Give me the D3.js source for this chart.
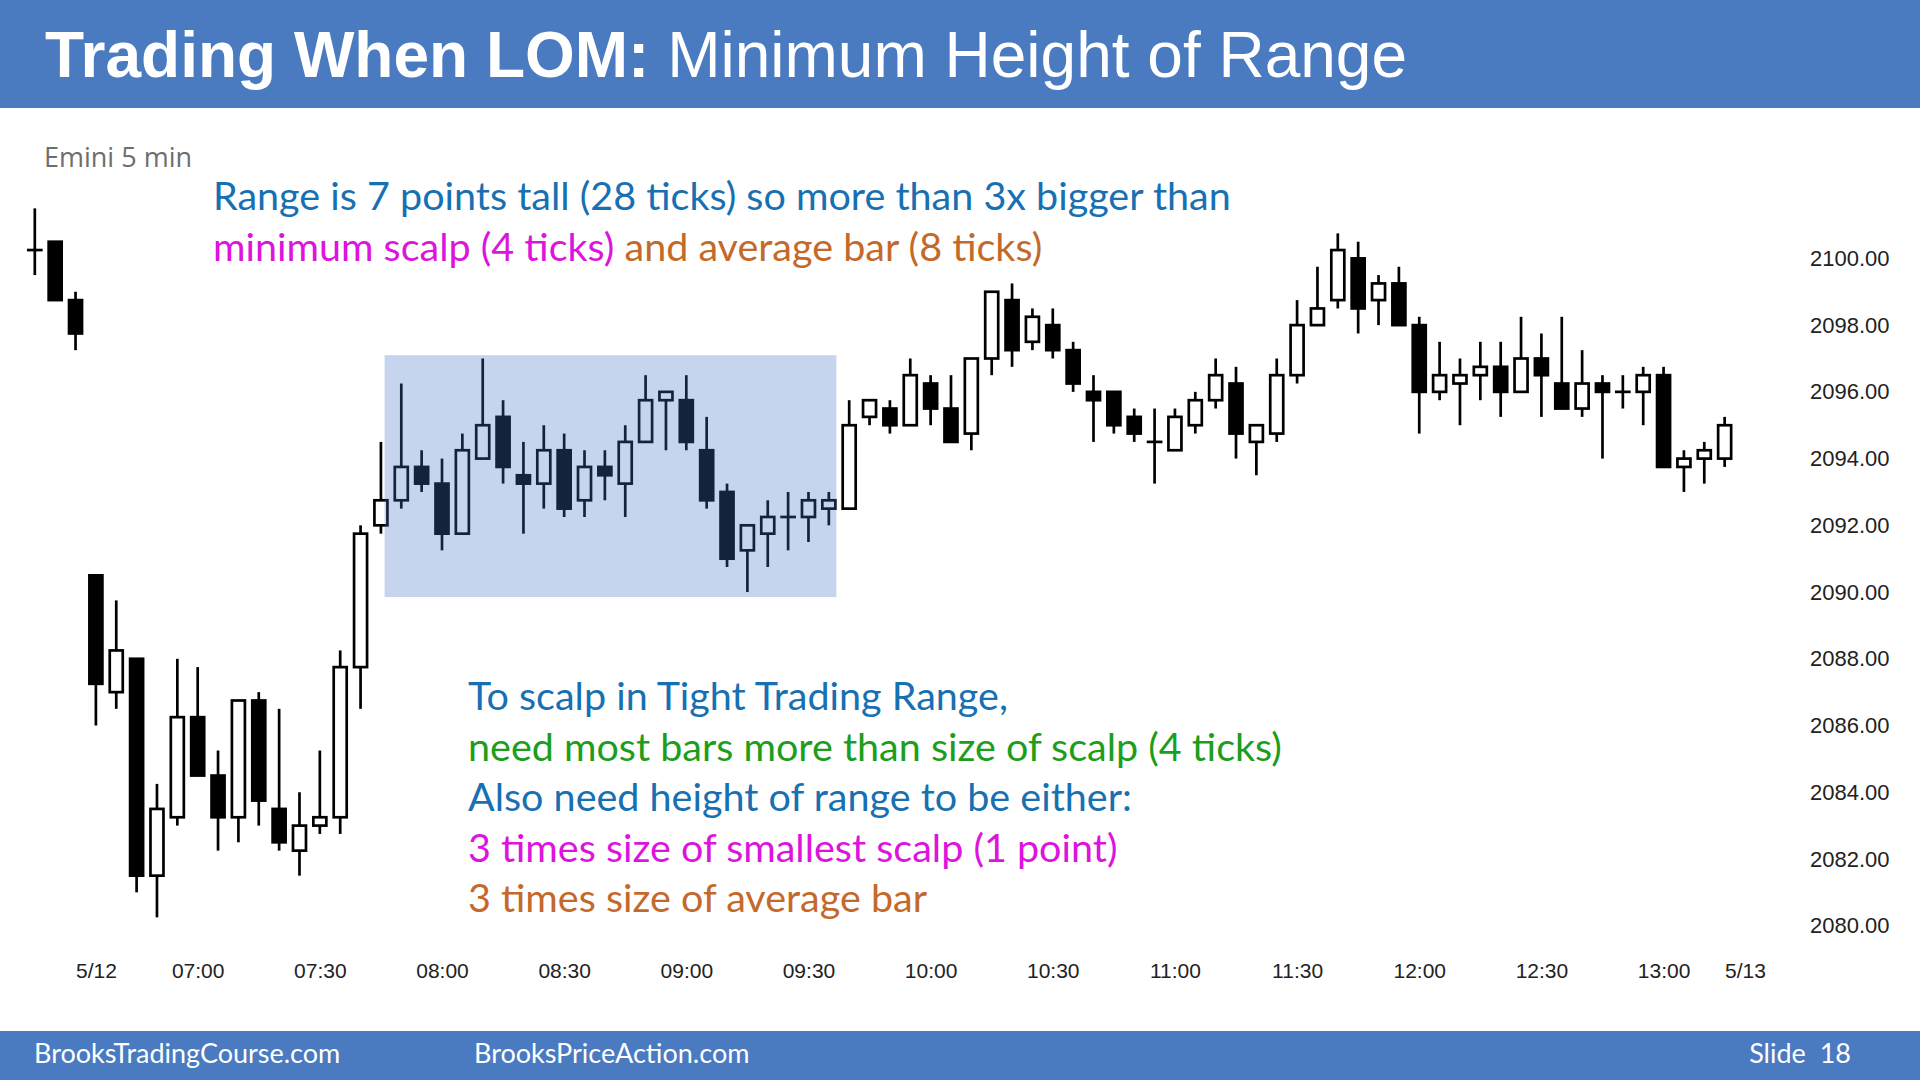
<!DOCTYPE html>
<html>
<head>
<meta charset="utf-8">
<script src="https://cdn.jsdelivr.net/npm/d3@7/dist/d3.min.js"></script>
<style>
body { margin: 0; background: #fff; }
svg { display: block; }
</style>
</head>
<body>
<script>
// bar number 0 is the 08:00 bar, negative numbers come before it
let firstBar = -20;

let opens = [2100.25, 2100.5, 2098.75, 2090.5, 2087, 2088, 2081.5, 2083.25, 2086.25, 2084.5,
    2083.25, 2086.75, 2083.5, 2082.25, 2083, 2083.25, 2087.75, 2092, 2092.75, 2093.75,
    2093.25, 2091.75, 2094, 2095.25, 2093.5, 2093.25, 2094.25, 2092.75, 2093.75, 2093.25,
    2094.5, 2095.75, 2095.75, 2094.25, 2093, 2091.25, 2091.75, 2092.25, 2092.25, 2092.5,
    2092.5, 2095.25, 2095.5, 2095, 2096.25, 2095.5, 2094.75, 2097, 2098.75, 2097.5,
    2098, 2097.25, 2096, 2096, 2095.25, 2094.5, 2094.25, 2095, 2095.75, 2096.25,
    2094.5, 2094.75, 2096.5, 2098, 2098.75, 2100, 2098.75, 2099.25, 2098, 2096,
    2096.25, 2096.5, 2096.75, 2096, 2097, 2096.25, 2095.5, 2096.25, 2096, 2096,
    2096.5, 2093.75, 2094, 2094];
let highs = [2101.5, 2100.5, 2099, 2090.5, 2089.75, 2088, 2084.25, 2088, 2087.75, 2085.25,
    2086.75, 2087, 2086.5, 2084, 2085.25, 2088.25, 2092, 2094.5, 2096.25, 2094.25,
    2094, 2094.75, 2097, 2095.75, 2094.5, 2095, 2094.75, 2094.25, 2094.25, 2095,
    2096.5, 2096, 2096.5, 2095.25, 2093.25, 2092, 2092.75, 2093, 2093, 2093,
    2095.75, 2095.75, 2095.75, 2097, 2096.5, 2096.5, 2097, 2099, 2099.25, 2098.5,
    2098.5, 2097.5, 2096.5, 2096, 2095.5, 2095.5, 2095.5, 2096, 2097, 2096.75,
    2095, 2097, 2098.75, 2099.75, 2100.75, 2100.5, 2099.5, 2099.75, 2098.25, 2097.5,
    2097, 2097.5, 2097.5, 2098.25, 2097.75, 2098.25, 2097.25, 2096.5, 2096.5, 2096.75,
    2096.75, 2094.25, 2094.5, 2095.25];
let lows = [2099.5, 2098.75, 2097.25, 2086, 2086.5, 2081, 2080.25, 2083, 2084.5, 2082.25,
    2082.5, 2083, 2082.25, 2081.5, 2082.75, 2082.75, 2086.5, 2091.75, 2092.5, 2093,
    2091.25, 2091.75, 2094, 2093.25, 2091.75, 2092.5, 2092.25, 2092.25, 2092.75, 2092.25,
    2094.5, 2094.25, 2094.25, 2092.5, 2090.75, 2090, 2090.75, 2091.25, 2091.5, 2092,
    2092.5, 2095, 2094.75, 2095, 2095, 2094.5, 2094.25, 2096.5, 2096.75, 2097.25,
    2097, 2096, 2094.5, 2094.75, 2094.5, 2093.25, 2094.25, 2094.75, 2095.5, 2094,
    2093.5, 2094.5, 2096.25, 2098, 2098.5, 2097.75, 2098, 2098, 2094.75, 2095.75,
    2095, 2095.75, 2095.25, 2096, 2095.25, 2095.5, 2095.25, 2094, 2095.5, 2095,
    2093.75, 2093, 2093.25, 2093.75];
let closes = [2100.25, 2098.75, 2097.75, 2087.25, 2088.25, 2081.5, 2083.5, 2086.25, 2084.5, 2083.25,
    2086.75, 2083.75, 2082.5, 2083, 2083.25, 2087.75, 2091.75, 2092.75, 2093.75, 2093.25,
    2091.75, 2094.25, 2095, 2093.75, 2093.25, 2094.25, 2092.5, 2093.75, 2093.5, 2094.5,
    2095.75, 2096, 2094.5, 2092.75, 2091, 2092, 2092.25, 2092.25, 2092.75, 2092.75,
    2095, 2095.75, 2095, 2096.5, 2095.5, 2094.5, 2097, 2099, 2097.25, 2098.25,
    2097.25, 2096.25, 2095.75, 2095, 2094.75, 2094.5, 2095.25, 2095.75, 2096.5, 2094.75,
    2095, 2096.5, 2098, 2098.5, 2100.25, 2098.5, 2099.25, 2098, 2096, 2096.5,
    2096.5, 2096.75, 2096, 2097, 2096.5, 2095.5, 2096.25, 2096, 2096, 2096.5,
    2093.75, 2094, 2094.25, 2095];

let timeTicks = [-17, -12, -6, 0, 6, 12, 18, 24, 30, 36, 42, 48, 54, 60, 64];
let timeLabels = ["5/12", "07:00", "07:30", "08:00", "08:30", "09:00", "09:30", "10:00",
    "10:30", "11:00", "11:30", "12:00", "12:30", "13:00", "5/13"];
let priceTicks = [2080, 2082, 2084, 2086, 2088, 2090, 2092, 2094, 2096, 2098, 2100];

// shaded trading range (bars and prices)
let rangeBars = [-2.82, 19.37];
let rangePrices = [2089.85, 2097.1];

let topNotes = [
    [{t: "Range is 7 points tall (28 ticks) so more than 3x bigger than", c: "#1770b2"}],
    [{t: "minimum scalp (4 ticks)", c: "#dc14dc"}, {t: " and average bar (8 ticks)", c: "#c4692a"}]
];
let bottomNotes = [
    {t: "To scalp in Tight Trading Range,", c: "#1770b2"},
    {t: "need most bars more than size of scalp (4 ticks)", c: "#1c9e1c"},
    {t: "Also need height of range to be either:", c: "#1770b2"},
    {t: "3 times size of smallest scalp (1 point)", c: "#dc14dc"},
    {t: "3 times size of average bar", c: "#c4692a"}
];

let width = 1920;
let height = 1080;
let blue = "#4a7abf";

let bars = opens.map((o, i) => ({n: firstBar + i, o: o, h: highs[i], l: lows[i], c: closes[i]}));

let svg = d3.select("body").append("svg").attr("width", width).attr("height", height);

// header and footer bands
svg.append("rect").attr("x", 0).attr("y", 0).attr("width", width).attr("height", 108).attr("fill", blue);
svg.append("rect").attr("x", 0).attr("y", 1031).attr("width", width).attr("height", 49).attr("fill", blue);

let title = svg.append("text")
    .attr("x", 45).attr("y", 77)
    .attr("fill", "#fff")
    .style("font-family", "'Liberation Sans', Arial, sans-serif")
    .style("font-size", "64px");
title.append("tspan").style("font-weight", "bold").text("Trading When LOM: ");
title.append("tspan").text("Minimum Height of Range");

let footFont = "Lato, 'Open Sans', sans-serif";
svg.append("text").attr("x", 34).attr("y", 1063).attr("fill", "#fff")
    .style("font-family", footFont).style("font-size", "27px").text("BrooksTradingCourse.com");
svg.append("text").attr("x", 474).attr("y", 1063).attr("fill", "#fff")
    .style("font-family", footFont).style("font-size", "27px").text("BrooksPriceAction.com");
svg.append("text").attr("x", 1851).attr("y", 1063).attr("fill", "#fff").attr("text-anchor", "end")
    .style("font-family", footFont).style("font-size", "27px").style("white-space", "pre").text("Slide  18");

svg.append("text").attr("x", 44).attr("y", 167).attr("fill", "#6e6e6e")
    .style("font-family", "'Open Sans', sans-serif").style("font-size", "27px").text("Emini 5 min");

// scales
let x = d3.scaleLinear().domain([0, 64]).range([442, 1745]);
let y = d3.scaleLinear().domain([2080, 2100]).range([925.7, 258.4]);

let bodyW = 13;
let lineW = 2.7;

let chart = svg.append("g").attr("class", "candles");

chart.selectAll("line.wick")
    .data(bars)
    .enter().append("line")
    .attr("class", "wick")
    .attr("x1", (d) => x(d.n)).attr("x2", (d) => x(d.n))
    .attr("y1", (d) => y(d.h)).attr("y2", (d) => y(d.l))
    .attr("stroke", "#000").attr("stroke-width", lineW);

chart.selectAll("rect.body")
    .data(bars.filter((d) => d.o !== d.c))
    .enter().append("rect")
    .attr("class", "body")
    .attr("x", (d) => x(d.n) - bodyW / 2)
    .attr("y", (d) => y(Math.max(d.o, d.c)))
    .attr("width", bodyW)
    .attr("height", (d) => Math.abs(y(d.o) - y(d.c)))
    .attr("fill", (d) => d.c < d.o ? "#000" : "#fff")
    .attr("stroke", "#000").attr("stroke-width", lineW);

chart.selectAll("line.doji")
    .data(bars.filter((d) => d.o === d.c))
    .enter().append("line")
    .attr("class", "doji")
    .attr("x1", (d) => x(d.n) - (bodyW + lineW) / 2).attr("x2", (d) => x(d.n) + (bodyW + lineW) / 2)
    .attr("y1", (d) => y(d.o)).attr("y2", (d) => y(d.o))
    .attr("stroke", "#000").attr("stroke-width", lineW);

// translucent range box drawn over the bars
svg.append("rect")
    .attr("x", x(rangeBars[0]))
    .attr("y", y(rangePrices[1]))
    .attr("width", x(rangeBars[1]) - x(rangeBars[0]))
    .attr("height", y(rangePrices[0]) - y(rangePrices[1]))
    .attr("fill", "#4472c4").attr("fill-opacity", 0.3);

// axes
let axisFont = "'Liberation Sans', Arial, sans-serif";
let yAxis = d3.axisRight(y).tickValues(priceTicks).tickFormat(d3.format(".2f")).tickSize(0).tickPadding(0);
let yG = svg.append("g").attr("class", "y axis").attr("transform", "translate(1810,0)").call(yAxis);
let xAxis = d3.axisBottom(x).tickValues(timeTicks).tickFormat((d, i) => timeLabels[i]).tickSize(0).tickPadding(0);
let xG = svg.append("g").attr("class", "x axis").attr("transform", "translate(0,963)").call(xAxis);
[yG, xG].forEach((g) => {
    g.select(".domain").remove();
    g.selectAll("text").attr("fill", "#222").style("font-family", axisFont).style("font-size", "21px");
});
yG.selectAll("text").style("font-size", "22px");

// annotations
let noteFont = "Lato, Carlito, sans-serif";
topNotes.forEach((parts, i) => {
    let t = svg.append("text").attr("x", 213).attr("y", 210 + i * 50.5)
        .style("font-family", noteFont).style("font-size", "39.5px").style("white-space", "pre");
    parts.forEach((p) => t.append("tspan").attr("fill", p.c).text(p.t));
});
bottomNotes.forEach((p, i) => {
    svg.append("text").attr("x", 468).attr("y", 710 + i * 50.5)
        .attr("fill", p.c)
        .style("font-family", noteFont).style("font-size", "39.5px")
        .text(p.t);
});
</script>
</body>
</html>
